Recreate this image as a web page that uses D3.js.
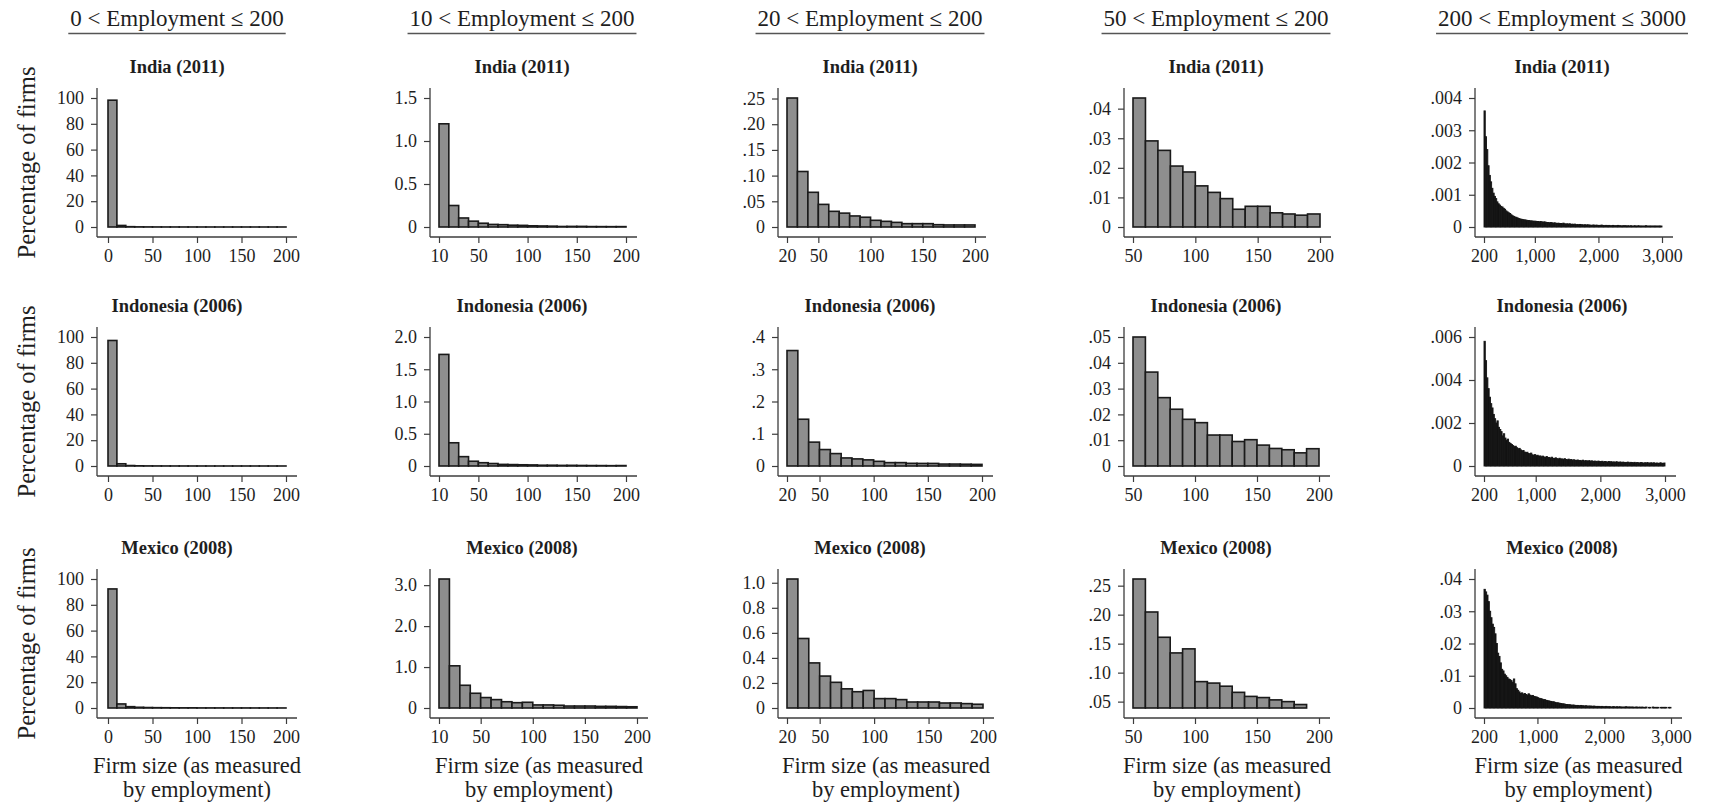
<!DOCTYPE html>
<html><head><meta charset="utf-8">
<script src="https://cdn.jsdelivr.net/npm/d3@7"></script>
<style>
body{margin:0;background:#fff;}
svg{display:block;}
text{font-family:"Liberation Serif","DejaVu Serif","Times New Roman",serif;}
</style>
</head><body>
<svg id="chart" width="1711" height="809"></svg>
<script>
// ---------------- DATA ----------------
const columnTitles = ["0 < Employment \u2264 200", "10 < Employment \u2264 200", "20 < Employment \u2264 200", "50 < Employment \u2264 200", "200 < Employment \u2264 3000"];
const countries = ["India (2011)", "Indonesia (2006)", "Mexico (2008)"];
const binStart = [0, 10, 20, 50, 200];
const binWidth = [10, 10, 10, 10, 20];
const xMax = [200, 200, 200, 200, 3000];
const xTicks = [[0,50,100,150,200],[10,50,100,150,200],[20,50,100,150,200],[50,100,150,200],[200,1000,2000,3000]];
const xTickLabels = [["0","50","100","150","200"],["10","50","100","150","200"],["20","50","100","150","200"],["50","100","150","200"],["200","1,000","2,000","3,000"]];
const yAxisTitle = "Percentage of firms";
const xAxisTitle = ["Firm size (as measured", "by employment)"];

// India (2011)
const india0 = [98.3, 1.2, 0.25, 0.105, 0.068, 0.044, 0.03, 0.027, 0.021, 0.019, 0.014, 0.012, 0.0096, 0.006, 0.007, 0.007, 0.0048, 0.0044, 0.004, 0.0044];
const india10 = [1.2, 0.25, 0.105, 0.068, 0.044, 0.03, 0.027, 0.021, 0.019, 0.014, 0.012, 0.0096, 0.006, 0.007, 0.007, 0.0048, 0.0044, 0.004, 0.0044];
const india20 = [0.251, 0.108, 0.0675, 0.044, 0.0305, 0.027, 0.0215, 0.019, 0.013, 0.011, 0.009, 0.0065, 0.0065, 0.0065, 0.0045, 0.004, 0.004, 0.004];
const india50 = [0.0436, 0.0291, 0.0259, 0.0206, 0.0186, 0.0139, 0.0117, 0.0096, 0.006, 0.007, 0.007, 0.0048, 0.0044, 0.004, 0.0044];
const india200 = [
.0036,.0028,.0024,.0019,.0016,.0014,.0012,.00105,.00095,.00088,
.00078,.00072,.00068,.00064,.00062,.00058,.00055,.0005,.00047,.00044,
.00042,.00038,.00035,.00033,.00031,.0003,.00028,.00026,.00025,.00024,
.00023,.00022,.00022,.00021,.0002,.0002,.00019,.00019,.00018,.00018,
.00018,.00017,.00017,.00016,.00017,.00016,.00015,.00016,.00015,.00014,
.00014,.00013,.00014,.00013,.00012,.00013,.00012,.00011,.00012,.00011,
.00011,.0001,.00012,.0001,.00009,.0001,.00009,.0001,.00008,.00009,
.00008,.00009,.00007,.00008,.00007,.00008,.00007,.00007,.00006,.00007,
.00006,.00007,.00006,.00006,.00005,.00006,.00006,.00005,.00006,.00005,
.00005,.00005,.00006,.00005,.00004,.00005,.00005,.00004,.00005,.00004,
.00004,.00005,.00004,.00004,.00004,.00005,.00004,.00004,.00003,.00004,
.00004,.00004,.00003,.00004,.00003,.00004,.00003,.00003,.00004,.00003,
.00003,.00004,.00003,.00003,.00003,.00003,.00003,.00004,.00003,.00003,
.00003,.00003,.00003,.00003,.00003,.00003,.00003,.00003,.00003,.00003];
const indiaYTicks = [[0,20,40,60,80,100],[0,0.5,1,1.5],[0,.05,.1,.15,.2,.25],[0,.01,.02,.03,.04],[0,.001,.002,.003,.004]];
const indiaYLabels = [["0","20","40","60","80","100"],["0","0.5","1.0","1.5"],["0",".05",".10",".15",".20",".25"],["0",".01",".02",".03",".04"],["0",".001",".002",".003",".004"]];
const indiaYMin = [0,0,0,0,0];

// Indonesia (2006)
const indonesia0 = [97.3, 1.73, 0.36, 0.145, 0.074, 0.051, 0.0385, 0.025, 0.022, 0.019, 0.0168, 0.012, 0.012, 0.0095, 0.0102, 0.0081, 0.0068, 0.0063, 0.0051, 0.0067];
const indonesia10 = [1.73, 0.36, 0.145, 0.074, 0.051, 0.0385, 0.025, 0.022, 0.019, 0.0168, 0.012, 0.012, 0.0095, 0.0102, 0.0081, 0.0068, 0.0063, 0.0051, 0.0067];
const indonesia20 = [0.358, 0.145, 0.074, 0.051, 0.0385, 0.025, 0.022, 0.019, 0.0145, 0.0105, 0.0105, 0.0083, 0.008, 0.008, 0.006, 0.006, 0.0055, 0.005];
const indonesia50 = [0.050, 0.0364, 0.0265, 0.022, 0.0181, 0.0168, 0.012, 0.012, 0.0095, 0.0102, 0.0081, 0.0068, 0.0063, 0.0051, 0.0067];
const indonesia200 = [
.0058,.0049,.0041,.0036,.0032,.0029,.0027,.0024,.0022,.002,
.0021,.0018,.0017,.0016,.0014,.0015,.0013,.0012,.00125,.0011,
.00105,.001,.00095,.0009,.00092,.00085,.0008,.00082,.00075,.0007,
.00072,.00065,.00062,.00064,.00058,.00056,.0006,.00052,.0005,.00053,
.00048,.0005,.00045,.00047,.00043,.00046,.00042,.0004,.00044,.00039,
.0004,.00037,.00041,.00036,.00035,.00038,.00034,.00033,.00036,.00032,
.00033,.00031,.00034,.0003,.00029,.00032,.00028,.0003,.00027,.00029,
.00027,.00026,.00028,.00025,.00026,.00024,.00027,.00023,.00025,.00024,
.00023,.00025,.00022,.00024,.00021,.00023,.00022,.0002,.00023,.00021,
.0002,.00022,.00019,.00021,.0002,.00018,.00021,.00019,.0002,.00018,
.00019,.00017,.0002,.00018,.00017,.00019,.00016,.00018,.00017,.00016,
.00017,.00018,.00015,.00017,.00016,.00015,.00017,.00014,.00016,.00015,
.00014,.00016,.00015,.00013,.00015,.00014,.00016,.00013,.00014,.00015,
.00013,.00015,.00012,.00014,.00013,.00012,.00015,.00013,.00012,.00014];
const indonesiaYTicks = [[0,20,40,60,80,100],[0,0.5,1,1.5,2],[0,.1,.2,.3,.4],[0,.01,.02,.03,.04,.05],[0,.002,.004,.006]];
const indonesiaYLabels = [["0","20","40","60","80","100"],["0","0.5","1.0","1.5","2.0"],["0",".1",".2",".3",".4"],["0",".01",".02",".03",".04",".05"],["0",".002",".004",".006"]];
const indonesiaYMin = [0,0,0,0,0];

// Mexico (2008)
const mexico0 = [92.3, 3.15, 1.03, 0.555, 0.36, 0.255, 0.205, 0.153, 0.13, 0.14, 0.075, 0.075, 0.067, 0.048, 0.048, 0.048, 0.04, 0.04, 0.035, 0.03];
const mexico10 = [3.15, 1.03, 0.555, 0.36, 0.255, 0.205, 0.153, 0.13, 0.14, 0.075, 0.075, 0.067, 0.048, 0.048, 0.048, 0.04, 0.04, 0.035, 0.03];
const mexico20 = [1.03, 0.555, 0.36, 0.255, 0.205, 0.153, 0.13, 0.14, 0.075, 0.075, 0.067, 0.048, 0.048, 0.048, 0.04, 0.04, 0.035, 0.03];
const mexico50 = [0.2615, 0.2046, 0.161, 0.134, 0.141, 0.0845, 0.082, 0.0766, 0.066, 0.059, 0.057, 0.053, 0.050, 0.045];
const mexico200 = [
.0368,.036,.035,.033,.030,.028,.026,.025,.023,.020,
.017,.016,.014,.012,.0115,.0105,.010,.0095,.009,.0088,
.0085,.008,.009,.0075,.006,.0055,.005,.0045,.0047,.0043,
.0045,.0042,.004,.0044,.004,.0038,.0039,.0036,.0035,.0034,
.0032,.003,.0029,.0028,.0026,.0026,.0024,.0023,.0022,.0021,
.002,.0019,.0019,.0017,.0016,.0016,.0015,.0014,.0013,.0013,
.0012,.0011,.0011,.001,.001,.0009,.0009,.0009,.0008,.0008,
.0008,.0007,.0008,.0007,.0007,.0006,.0007,.0006,.0006,.0006,
.0006,.0005,.0006,.0005,.0005,.0005,.0005,.0004,.0005,.0004,
.0004,.0005,.0004,.0004,.0004,.0003,.0004,.0004,.0003,.0004,
.0003,.0004,.0003,.0003,.0003,.0003,.0004,.0003,.0003,.0003,
.0003,.0003,.0002,.0003,.0003,.0002,.0003,.0002,.0003,.0002,
.0002,.0003,0,.0002,.0002,0,.0003,.0002,.0002,.0002,
.0002,0,.0002,.0002,.0002,.0002,.0002,0,.0002,.0002];
const mexicoYTicks = [[0,20,40,60,80,100],[0,1,2,3],[0,.2,.4,.6,.8,1],[.05,.1,.15,.2,.25],[0,.01,.02,.03,.04]];
const mexicoYLabels = [["0","20","40","60","80","100"],["0","1.0","2.0","3.0"],["0","0.2","0.4","0.6","0.8","1.0"],[".05",".10",".15",".20",".25"],["0",".01",".02",".03",".04"]];
const mexicoYMin = [0,0,0,0.039,0];

// ---------------- LAYOUT ----------------
const seriesRows = [
  [india0, india10, india20, india50, india200],
  [indonesia0, indonesia10, indonesia20, indonesia50, indonesia200],
  [mexico0, mexico10, mexico20, mexico50, mexico200]];
const yTickRows = [indiaYTicks, indonesiaYTicks, mexicoYTicks];
const yLabelRows = [indiaYLabels, indonesiaYLabels, mexicoYLabels];
const yMinRows = [indiaYMin, indonesiaYMin, mexicoYMin];

const rowBase = [227, 466, 708];
const plotH = 129;
const colAxisX = [97, 430, 778, 1124, 1475];
const colInnerLeft = [108, 439, 787, 1133, 1484];
const colCenter = [177, 522, 870, 1216, 1562];
const plotWidths = [[178,187,188,187,178],[178,187,195,186,181],[178,198,196,186,187]];

const ink = "#1e1e1e";
const axisCol = "#3c3c3c";
const svg = d3.select("#chart");

// Column headers
columnTitles.forEach((t, c) => {
  const tx = svg.append("text").attr("x", colCenter[c]).attr("y", 26)
    .attr("text-anchor", "middle").attr("font-size", 23).attr("fill", ink).text(t);
  const w = tx.node().getComputedTextLength();
  svg.append("line").attr("x1", colCenter[c] - w/2 - 2).attr("x2", colCenter[c] + w/2 + 2)
    .attr("y1", 33.5).attr("y2", 33.5).attr("stroke", "#555").attr("stroke-width", 1.4);
});

function panel(r, c) {
  const data = seriesRows[r][c];
  const base = rowBase[r], top = base - plotH;
  const ticks = yTickRows[r][c], labels = yLabelRows[r][c];
  const yMin = yMinRows[r][c];
  const yMax = Math.max(d3.max(data), d3.max(ticks));
  const y = d3.scaleLinear().domain([yMin, yMax]).range([base, top]);
  const xl = colInnerLeft[c];
  const x = d3.scaleLinear().domain([binStart[c], xMax[c]]).range([xl, xl + plotWidths[r][c]]);
  const g = svg.append("g");
  const w = binWidth[c];
  const dark = c === 4;

  // bars
  g.append("g").selectAll("rect").data(data).join("rect")
    .attr("x", (d, i) => x(binStart[c] + i * w))
    .attr("width", (d, i) => x(binStart[c] + (i + 1) * w) - x(binStart[c] + i * w))
    .attr("y", d => y(Math.max(d, yMin)))
    .attr("height", d => base - y(Math.max(d, yMin)))
    .attr("fill", dark ? "#141414" : "#8e8e8e")
    .attr("stroke", dark ? "#141414" : "#1a1a1a")
    .attr("stroke-width", dark ? 0.9 : 1.6)
    .attr("display", d => (dark && d <= 0) ? "none" : null);

  // axis lines
  const ax = colAxisX[c];
  const xEnd = x.range()[1] + 11;
  g.append("line").attr("x1", ax).attr("x2", ax).attr("y1", top - 10).attr("y2", base + 10)
    .attr("stroke", axisCol).attr("stroke-width", 1.3);
  g.append("line").attr("x1", ax).attr("x2", xEnd).attr("y1", base + 10).attr("y2", base + 10)
    .attr("stroke", axisCol).attr("stroke-width", 1.3);

  const yAxis = d3.axisLeft(y).tickValues(ticks).tickFormat((d, i) => labels[i]).tickSize(6).tickPadding(7);
  const yg = g.append("g").attr("transform", `translate(${ax},0)`).call(yAxis);
  yg.select(".domain").remove();
  yg.attr("font-size", 18).attr("color", axisCol).attr("font-family", null);
  yg.selectAll("text").attr("fill", ink);
  yg.selectAll("line").attr("stroke-width", 1.2);

  const xAxis = d3.axisBottom(x).tickValues(xTicks[c]).tickFormat((d, i) => xTickLabels[c][i]).tickSize(6).tickPadding(6);
  const xg = g.append("g").attr("transform", `translate(0,${base + 10})`).call(xAxis);
  xg.select(".domain").remove();
  xg.attr("font-size", 18).attr("color", axisCol).attr("font-family", null);
  xg.selectAll("text").attr("fill", ink);
  xg.selectAll("line").attr("stroke-width", 1.2);

  // panel title
  svg.append("text").attr("x", colCenter[c]).attr("y", base - 154)
    .attr("text-anchor", "middle").attr("font-size", 18.5).attr("font-weight", "bold")
    .attr("fill", ink).text(countries[r]);

  // y axis title (first column)
  if (c === 0) {
    svg.append("text").attr("transform", `translate(26,${(top + base) / 2}) rotate(-90)`)
      .attr("text-anchor", "middle").attr("dy", "0.35em").attr("font-size", 24.5)
      .attr("fill", ink).text(yAxisTitle);
  }
  // x axis title (last row)
  if (r === 2) {
    const cx = (ax + xEnd) / 2;
    xAxisTitle.forEach((t, k) => {
      svg.append("text").attr("x", cx).attr("y", 773 + k * 24)
        .attr("text-anchor", "middle").attr("font-size", 22.5).attr("fill", ink).text(t);
    });
  }
}

for (let r = 0; r < 3; r++) for (let c = 0; c < 5; c++) panel(r, c);
</script>
</body></html>
